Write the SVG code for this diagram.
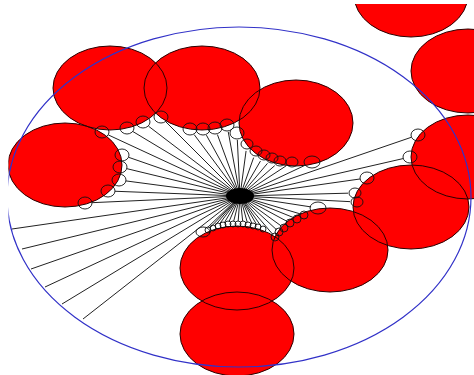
<svg xmlns="http://www.w3.org/2000/svg" width="474" height="375" viewBox="0 0 474 375">
<style>
.r{fill:#ff0000;stroke:none}
.o{fill:none;stroke:#2a0000;stroke-width:1}
.s{fill:none;stroke:#111;stroke-width:0.9}
.c line{stroke:#222;stroke-width:1;stroke-dasharray:0 7 999}
.c line.t{stroke-dasharray:0 3 999}
.c line.d{stroke-dasharray:none}
.b{fill:none;stroke:#3232c8;stroke-width:1.2}
</style>
<defs>
<clipPath id="clip"><rect x="8.5" y="4" width="466" height="371"/></clipPath>
</defs>
<rect width="474" height="375" fill="#fff"/>
<g clip-path="url(#clip)">
<g id="n1"><ellipse class="r" cx="110" cy="88" rx="57" ry="42"/></g>
<g id="n2"><ellipse class="r" cx="202" cy="88" rx="58" ry="42"/></g>
<g id="n3"><ellipse class="r" cx="296" cy="123" rx="57" ry="43"/></g>
<g id="n4"><ellipse class="r" cx="65" cy="165" rx="57" ry="42"/></g>
<g id="n5"><ellipse class="r" cx="411" cy="-5" rx="57" ry="42"/></g>
<g id="n6"><ellipse class="r" cx="468" cy="71" rx="57" ry="42"/></g>
<g id="n7"><ellipse class="r" cx="468" cy="157" rx="57" ry="42"/></g>
<g id="n8"><ellipse class="r" cx="411" cy="207" rx="58" ry="42"/></g>
<g id="n9"><ellipse class="r" cx="330" cy="250" rx="58" ry="42"/></g>
<g id="n10"><ellipse class="r" cx="237" cy="268" rx="57" ry="42"/></g>
<g id="n11"><ellipse class="r" cx="237" cy="334" rx="57" ry="42"/></g>
<g id="outlines">
<ellipse class="o" cx="110" cy="88" rx="57" ry="42"/>
<ellipse class="o" cx="202" cy="88" rx="58" ry="42"/>
<ellipse class="o" cx="296" cy="123" rx="57" ry="43"/>
<ellipse class="o" cx="65" cy="165" rx="57" ry="42"/>
<ellipse class="o" cx="411" cy="-5" rx="57" ry="42"/>
<ellipse class="o" cx="468" cy="71" rx="57" ry="42"/>
<ellipse class="o" cx="468" cy="157" rx="57" ry="42"/>
<ellipse class="o" cx="411" cy="207" rx="58" ry="42"/>
<ellipse class="o" cx="330" cy="250" rx="58" ry="42"/>
<ellipse class="o" cx="237" cy="268" rx="57" ry="42"/>
<ellipse class="o" cx="237" cy="334" rx="57" ry="42"/>
</g>
<g id="boundary"><ellipse class="b" cx="239" cy="197" rx="232" ry="170"/></g>
<g id="connectors" class="c">
<line x1="102" y1="132" x2="240" y2="196"/>
<line x1="127" y1="128" x2="240" y2="196"/>
<line x1="143" y1="122" x2="240" y2="196"/>
<line x1="161" y1="117" x2="240" y2="196"/>
<line x1="190" y1="129" x2="240" y2="196"/>
<line x1="203" y1="129" x2="240" y2="196"/>
<line x1="215" y1="128" x2="240" y2="196"/>
<line x1="227" y1="125" x2="240" y2="196"/>
<line x1="237" y1="133" x2="240" y2="196"/>
<line x1="247" y1="144" x2="240" y2="196"/>
<line x1="256" y1="151" x2="240" y2="196"/>
<line x1="264" y1="155" x2="240" y2="196"/>
<line x1="272" y1="158" x2="240" y2="196"/>
<line x1="280" y1="161" x2="240" y2="196"/>
<line x1="292" y1="162" x2="240" y2="196"/>
<line x1="312" y1="162" x2="240" y2="196"/>
<line x1="122" y1="155" x2="240" y2="196"/>
<line x1="120" y1="167" x2="240" y2="196"/>
<line x1="119" y1="180" x2="240" y2="196"/>
<line x1="108" y1="191" x2="240" y2="196"/>
<line x1="85" y1="203" x2="240" y2="196"/>
<line class="d" x1="12" y1="229" x2="240" y2="196"/>
<line class="d" x1="22" y1="249" x2="240" y2="196"/>
<line class="d" x1="31" y1="269" x2="240" y2="196"/>
<line class="d" x1="45" y1="287" x2="240" y2="196"/>
<line class="d" x1="62" y1="304" x2="240" y2="196"/>
<line class="d" x1="83" y1="319" x2="240" y2="196"/>
<line x1="203" y1="232" x2="240" y2="196"/>
<line class="t" x1="208" y1="230" x2="240" y2="196"/>
<line class="t" x1="213" y1="228" x2="240" y2="196"/>
<line class="t" x1="218" y1="226" x2="240" y2="196"/>
<line class="t" x1="223" y1="225" x2="240" y2="196"/>
<line class="t" x1="228" y1="224" x2="240" y2="196"/>
<line class="t" x1="233" y1="224" x2="240" y2="196"/>
<line class="t" x1="238" y1="224" x2="240" y2="196"/>
<line class="t" x1="243" y1="224" x2="240" y2="196"/>
<line class="t" x1="248" y1="225" x2="240" y2="196"/>
<line class="t" x1="253" y1="226" x2="240" y2="196"/>
<line class="t" x1="258" y1="227" x2="240" y2="196"/>
<line class="t" x1="263" y1="229" x2="240" y2="196"/>
<line class="t" x1="275" y1="237" x2="240" y2="196"/>
<line class="t" x1="279" y1="232" x2="240" y2="196"/>
<line class="t" x1="284" y1="228" x2="240" y2="196"/>
<line class="t" x1="290" y1="223" x2="240" y2="196"/>
<line class="t" x1="297" y1="219" x2="240" y2="196"/>
<line class="t" x1="304" y1="215" x2="240" y2="196"/>
<line x1="318" y1="208" x2="240" y2="196"/>
<line x1="355" y1="193" x2="240" y2="196"/>
<line x1="357" y1="202" x2="240" y2="196"/>
<line x1="367" y1="178" x2="240" y2="196"/>
<line x1="410" y1="157" x2="240" y2="196"/>
<line x1="418" y1="135" x2="240" y2="196"/>
</g>
<g id="leaves" class="s">
<ellipse cx="102" cy="132" rx="7" ry="6"/>
<ellipse cx="127" cy="128" rx="7" ry="6"/>
<ellipse cx="143" cy="122" rx="7" ry="6"/>
<ellipse cx="161" cy="117" rx="7" ry="6"/>
<ellipse cx="190" cy="129" rx="7" ry="6"/>
<ellipse cx="203" cy="129" rx="7" ry="6"/>
<ellipse cx="215" cy="128" rx="7" ry="6"/>
<ellipse cx="227" cy="125" rx="7" ry="6"/>
<ellipse cx="237" cy="133" rx="7" ry="6"/>
<ellipse cx="247" cy="144" rx="6" ry="5"/>
<ellipse cx="256" cy="151" rx="6" ry="5"/>
<ellipse cx="264" cy="155" rx="6" ry="5"/>
<ellipse cx="272" cy="158" rx="6" ry="5"/>
<ellipse cx="280" cy="161" rx="6" ry="5"/>
<ellipse cx="292" cy="162" rx="6" ry="5"/>
<ellipse cx="312" cy="162" rx="8" ry="6"/>
<ellipse cx="122" cy="155" rx="7" ry="6"/>
<ellipse cx="120" cy="167" rx="7" ry="6"/>
<ellipse cx="119" cy="180" rx="7" ry="6"/>
<ellipse cx="108" cy="191" rx="7" ry="6"/>
<ellipse cx="85" cy="203" rx="7" ry="6"/>
<ellipse cx="203" cy="232" rx="7" ry="5"/>
<ellipse cx="208" cy="230" rx="3" ry="3"/>
<ellipse cx="213" cy="228" rx="3" ry="3"/>
<ellipse cx="218" cy="226" rx="3" ry="3"/>
<ellipse cx="223" cy="225" rx="3" ry="3"/>
<ellipse cx="228" cy="224" rx="3" ry="3"/>
<ellipse cx="233" cy="224" rx="3" ry="3"/>
<ellipse cx="238" cy="224" rx="3" ry="3"/>
<ellipse cx="243" cy="224" rx="3" ry="3"/>
<ellipse cx="248" cy="225" rx="3" ry="3"/>
<ellipse cx="253" cy="226" rx="3" ry="3"/>
<ellipse cx="258" cy="227" rx="3" ry="3"/>
<ellipse cx="263" cy="229" rx="3" ry="3"/>
<ellipse cx="275" cy="237" rx="4" ry="4"/>
<ellipse cx="279" cy="232" rx="4" ry="4"/>
<ellipse cx="284" cy="228" rx="4" ry="4"/>
<ellipse cx="290" cy="223" rx="4" ry="4"/>
<ellipse cx="297" cy="219" rx="4" ry="4"/>
<ellipse cx="304" cy="215" rx="4" ry="4"/>
<ellipse cx="318" cy="208" rx="8" ry="6"/>
<ellipse cx="355" cy="193" rx="6" ry="5"/>
<ellipse cx="357" cy="202" rx="6" ry="5"/>
<ellipse cx="367" cy="178" rx="7" ry="6"/>
<ellipse cx="410" cy="157" rx="7" ry="6"/>
<ellipse cx="418" cy="135" rx="7" ry="6"/>
</g>
<g id="hub"><ellipse cx="240" cy="196" rx="14" ry="8" fill="#000"/></g>
</g>
</svg>
